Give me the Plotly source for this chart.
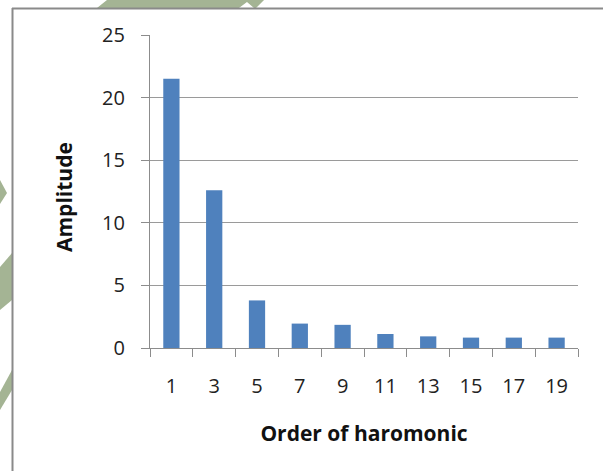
import plotly.graph_objects as go

harmonics = ["1", "3", "5", "7", "9", "11", "13", "15", "17", "19"]
amplitude = [21.5, 12.6, 3.8, 1.95, 1.85, 1.12, 0.93, 0.83, 0.83, 0.83]
y_ticks = [0, 5, 10, 15, 20, 25]

W, H = 603, 471
L, R, T, B = 150, 25, 35, 123
PW, PH = W - L - R, H - T - B


def px(x, y):
    return (x - L) / PW, (H - B - y) / PH


def poly(points, color):
    pts = [px(x, y) for x, y in points]
    d = "M " + " L ".join(f"{a:.4f},{b:.4f}" for a, b in pts) + " Z"
    return dict(type="path", xref="paper", yref="paper", path=d,
                fillcolor=color, line=dict(width=0), layer="below")


def seg(x0, y0, x1, y1, color, w):
    a0, b0 = px(x0, y0)
    a1, b1 = px(x1, y1)
    return dict(type="line", xref="paper", yref="paper", x0=a0, y0=b0,
                x1=a1, y1=b1, line=dict(color=color, width=w), layer="below")


green = "#a4b494"
shapes = [
    poly([(97, 8), (107, 0), (264, 0), (256, 8), (254, 8), (247, 2), (239, 8)], green),
    poly([(0, 180), (7, 193), (0, 204)], green),
    poly([(0, 267), (12, 253), (12, 300), (0, 310)], green),
    poly([(0, 392), (12, 370), (12, 390), (0, 410)], green),
    seg(12.5, 8, 12.5, 471, "#8a8a8a", 2),
    seg(12, 8.5, 603, 8.5, "#8a8a8a", 2),
]

fig = go.Figure(go.Bar(x=harmonics, y=amplitude, marker=dict(color="#4f81bd", line=dict(width=0))))

font = "'Open Sans', Lato, sans-serif"
ytx, yty = px(64, 197)
fig.update_layout(
    width=W, height=H,
    margin=dict(l=L, r=R, t=T, b=B),
    paper_bgcolor="white", plot_bgcolor="white",
    bargap=0.62,
    showlegend=False,
    shapes=shapes,
    font=dict(family=font, size=20, color="#222222"),
    annotations=[dict(text="<b>Amplitude</b>", xref="paper", yref="paper",
                      x=ytx, y=yty, textangle=-90, showarrow=False,
                      xanchor="center", yanchor="middle",
                      font=dict(size=21, color="#111111"))],
)
fig.update_xaxes(
    type="category",
    showline=True, linecolor="#8c8c8c", linewidth=1.2,
    ticks="outside", tickson="boundaries", ticklen=8, tickcolor="#8c8c8c",
    ticklabelstandoff=20,
    showgrid=False,
    title=dict(text="<b>Order of haromonic</b>", font=dict(size=21, color="#111111"), standoff=28),
)
fig.update_yaxes(
    range=[0, 25], tickvals=y_ticks,
    showline=True, linecolor="#8c8c8c", linewidth=1.2,
    ticks="outside", ticklen=8, tickcolor="#8c8c8c",
    ticklabelstandoff=12,
    showgrid=True, gridcolor="#9a9a9a", gridwidth=1,
    zeroline=False,
)

fig.write_html("out.html", post_script="document.body.style.margin='0';",
               config={"displayModeBar": False})
